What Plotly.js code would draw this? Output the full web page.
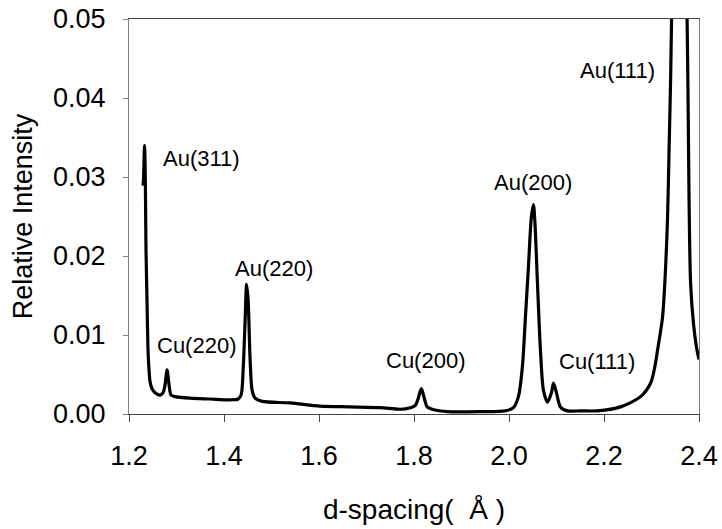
<!DOCTYPE html>
<html>
<head>
<meta charset="utf-8">
<script src="https://cdn.plot.ly/plotly-3.0.1.min.js"></script>
<style>
  html, body { margin: 0; padding: 0; background: #fff; }
  #chart { width: 722px; height: 529px; }
</style>
</head>
<body>
<div id="chart"></div>
<script>
// XRD pattern: d-spacing (Å) vs relative intensity
const dSpacing = [
  1.2295, 1.2306, 1.2327, 1.2337, 1.2348, 1.2358, 1.2379, 1.2400, 1.2421, 1.2443,
  1.2485, 1.2548, 1.2653, 1.2717, 1.2759, 1.2801, 1.2843, 1.2885, 1.2969, 1.3286,
  1.3707, 1.4129, 1.4297, 1.4360, 1.4403, 1.4445, 1.4476, 1.4508, 1.4550, 1.4592,
  1.4655, 1.4803, 1.5393, 1.6025, 1.6658, 1.7290, 1.7711, 1.7922, 1.8027, 1.8090,
  1.8154, 1.8217, 1.8280, 1.8449, 1.8702, 1.9397, 1.9924, 2.0093, 2.0198, 2.0282,
  2.0346, 2.0409, 2.0472, 2.0514, 2.0546, 2.0599, 2.0662, 2.0725, 2.0809, 2.0894,
  2.0936, 2.0999, 2.1083, 2.1231, 2.1505, 2.1863, 2.2348, 2.2769, 2.2980, 2.3065,
  2.3128, 2.3233, 2.3297, 2.3339, 2.3370, 2.3402, 2.3423, 2.3444, 2.3581, 2.3728,
  2.3749, 2.3770, 2.3791, 2.3823, 2.3886, 2.3949, 2.4000
];
const intensity = [
  0.0289, 0.0297, 0.0340, 0.0322, 0.0271, 0.0208, 0.0144, 0.0081, 0.0056, 0.0041,
  0.0032, 0.0027, 0.0024, 0.0027, 0.0037, 0.0056, 0.0037, 0.0024, 0.0022, 0.0020,
  0.0019, 0.0018, 0.0019, 0.0024, 0.0056, 0.0119, 0.0164, 0.0144, 0.0068, 0.0030,
  0.0020, 0.0016, 0.0014, 0.0010, 0.0009, 0.0008, 0.0006, 0.0008, 0.0011, 0.0020,
  0.0032, 0.0020, 0.0009, 0.0005, 0.0003, 0.0003, 0.0004, 0.0008, 0.0022, 0.0060,
  0.0123, 0.0186, 0.0250, 0.0265, 0.0242, 0.0166, 0.0081, 0.0030, 0.0015, 0.0027,
  0.0039, 0.0027, 0.0009, 0.0004, 0.0004, 0.0004, 0.0009, 0.0022, 0.0039, 0.0058,
  0.0081, 0.0123, 0.0186, 0.0250, 0.0335, 0.0423, 0.0501, 0.0560, 1.0000, 0.0560,
  0.0501, 0.0398, 0.0271, 0.0166, 0.0113, 0.0084, 0.0069
];

// Reflection labels
const peakLabels = ["Au(311)", "Cu(220)", "Au(220)", "Cu(200)", "Au(200)", "Cu(111)", "Au(111)"];
const peakLabelX = [1.3517, 1.3412, 1.5056, 1.8238, 2.0514, 2.1842, 2.2284];
const peakLabelY = [0.0324, 0.0087, 0.0184, 0.0068, 0.0293, 0.0066, 0.0435];

const yTicks = [0, 0.01, 0.02, 0.03, 0.04, 0.05];
const xTicks = [1.2, 1.4, 1.6, 1.8, 2.0, 2.2, 2.4];

const FONT = "Liberation Sans, Arial, sans-serif";

const trace = {
  x: dSpacing,
  y: intensity,
  type: "scatter",
  mode: "lines",
  line: { color: "#000", width: 3.2, shape: "spline", smoothing: 0.8 },
  hoverinfo: "skip"
};

const annotations = peakLabels.map((t, i) => ({
  x: peakLabelX[i], y: peakLabelY[i], xref: "x", yref: "y",
  text: t, showarrow: false, xanchor: "center", yanchor: "middle",
  font: { family: FONT, size: 22, color: "#000" }
}));

const layout = {
  width: 722, height: 529,
  margin: { l: 129, r: 23, t: 19, b: 115 },
  paper_bgcolor: "#fff", plot_bgcolor: "#fff",
  showlegend: false,
  font: { family: FONT, color: "#000" },
  xaxis: {
    range: [1.2, 2.4], tickvals: xTicks, tickformat: ".1f",
    ticks: "outside", ticklen: 7, tickcolor: "#444", tickwidth: 1,
    showline: true, linecolor: "#444", linewidth: 1, mirror: true,
    showgrid: false, zeroline: false,
    tickfont: { family: FONT, size: 27, color: "#000" },
    ticklabelstandoff: 11,
    title: { text: "d-spacing(  Å )", font: { family: FONT, size: 28, color: "#000" }, standoff: 28 }
  },
  yaxis: {
    range: [0, 0.05], tickvals: yTicks, tickformat: ".2f",
    ticks: "outside", ticklen: 5, tickcolor: "#808080", tickwidth: 1,
    showline: true, linecolor: "#808080", linewidth: 1, mirror: true,
    showgrid: false, zeroline: false,
    tickfont: { family: FONT, size: 27, color: "#000" },
    ticklabelstandoff: 12,
    title: { text: "Relative Intensity", font: { family: FONT, size: 27, color: "#000" }, standoff: 12 }
  },
  annotations: annotations
};

Plotly.newPlot("chart", [trace], layout, { displayModeBar: false, staticPlot: true });
</script>
</body>
</html>
